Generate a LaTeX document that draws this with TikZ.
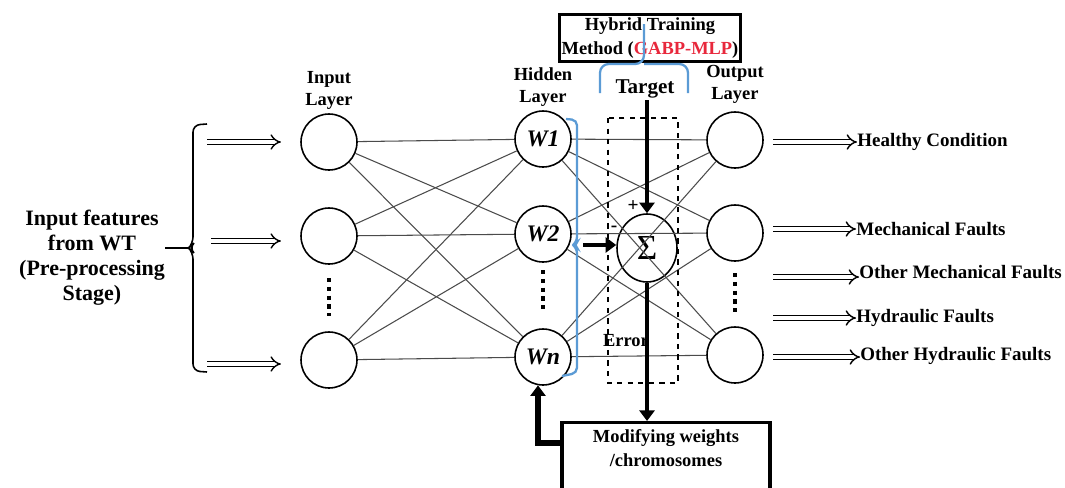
\documentclass[tikz,border=0pt]{standalone}
\usepackage{fontspec}
\setmainfont{Liberation Serif}
\usetikzlibrary{positioning}
\usetikzlibrary{arrows.meta}
\usetikzlibrary{shapes.geometric}
\usetikzlibrary{calc}
\definecolor{braceblue}{RGB}{91,155,213}
\definecolor{gabpred}{RGB}{232,40,60}
\definecolor{wiregray}{RGB}{75,75,75}

\begin{document}
\begin{tikzpicture}[x=0.02cm, y=-0.02cm,
                    neuron/.style={circle, draw, line width=0.9pt, minimum size=1.12cm, inner sep=0pt, font=\bfseries\itshape\fontsize{13.5}{15}\selectfont},
                    sumnode/.style={ellipse, draw, line width=0.9pt, minimum width=1.2cm, minimum height=1.36cm, inner sep=0pt},
                    layertext/.style={font=\bfseries\fontsize{10.5}{12.5}\selectfont, align=center, inner sep=1pt},
                    outtext/.style={font=\bfseries\fontsize{10.8}{13}\selectfont, anchor=west, inner sep=0pt},
                    thickbox/.style={draw, line width=1.8pt, align=center, font=\bfseries\fontsize{10.5}{13.5}\selectfont},
                    wire/.style={draw=wiregray, line width=0.6pt},
                    hollowarrow/.style={double, double distance=2.2pt, line width=0.8pt, -{Implies[scale=1.15]}},
                    heavyarrow/.style={line width=2.7pt, -{Triangle[length=6pt,width=8.5pt]}},
                    dotcol/.style={line width=2.4pt, dash pattern=on 2.4pt off 2.6pt},
                    bluebrace/.style={draw=braceblue, line width=1.3pt}
                   ]
\useasboundingbox (0,0) rectangle (1065,487);
%Nodes
\node[neuron] (i1) at (329,142) {};
\node[neuron] (i2) at (329,236) {};
\node[neuron] (i3) at (329,360) {};
\node[neuron] (h1) at (543,139) {W1};
\node[neuron] (h2) at (543,234) {W2};
\node[neuron] (h3) at (543,357) {Wn};
\node[neuron] (o1) at (735,140) {};
\node[neuron] (o2) at (735,233) {};
\node[neuron] (o3) at (735,355) {};
\node[sumnode] (sum) at (647,248) {\fontsize{20}{20}\selectfont Σ};

\node[layertext] (il) [above=1pt of i1] {Input\\Layer};
\node[layertext] (hl) [above=1pt of h1] {Hidden\\Layer};
\node[layertext] (ol) [above=3pt of o1] {Output\\Layer};

\node[thickbox, minimum width=3.54cm, minimum height=0.94cm, inner sep=1pt] (hyb) at (650,38) {Hybrid Training\\Method (\textcolor{gabpred}{GABP-MLP})};
\node[font=\bfseries\fontsize{12}{14}\selectfont, inner sep=1pt] (tgt) at (645,89) {Target};
\node[font=\bfseries\fontsize{11}{13}\selectfont, inner sep=0pt] (plus) at (633,206) {+};
\node[font=\bfseries\fontsize{11}{13}\selectfont, inner sep=0pt] (minus) at (614,229) {-};
\node[font=\bfseries\fontsize{10.5}{13}\selectfont, inner sep=0pt] (err) at (626,341) {Error};
\node[thickbox, anchor=north, minimum width=4.16cm, minimum height=1.7cm] (mod) at (666,421) {Modifying weights\\/chromosomes\\[2pt]\strut};

\node[font=\bfseries\fontsize{12.5}{14.2}\selectfont, align=center, inner sep=0pt] (feat) at (92,258) {Input features\\from WT\\(Pre-processing\\Stage)};

\node[outtext] (r1) at (857,142) {Healthy Condition};
\node[outtext] (r2) at (856,229) {Mechanical Faults};
\node[outtext] (r3) at (859,272) {Other Mechanical Faults};
\node[outtext] (r4) at (856,318) {Hydraulic Faults};
\node[outtext] (r5) at (860,356) {Other Hydraulic Faults};

\coordinate (ftip) at (189,248);
\coordinate (bt) at (583,245);
\coordinate (l1) at (207,142);
\coordinate (l2) at (211,241);
\coordinate (l3) at (207,364);
\coordinate (a1) at (773,142);
\coordinate (a2) at (773,229);
\coordinate (a3) at (773,277);
\coordinate (a4) at (773,318);
\coordinate (a5) at (773,357);

%Lines
\foreach \a in {i1,i2,i3}
  \foreach \b in {h1,h2,h3}
    \draw[wire] (\a) -- (\b);
\foreach \a in {h1,h2,h3}
  \foreach \b in {o1,o2,o3}
    \draw[wire] (\a) -- (\b);

\draw[dotcol] (329,278) -- (329,316);
\draw[dotcol] (543,270) -- (543,313);
\draw[dotcol] (735,273) -- (735,316);

\draw[dashed, line width=0.8pt] (608,118) rectangle (678,383);

% braces
\draw[line width=0.9pt, rounded corners=4pt] (207,124) -- (193,125) -- (193,244) -- (ftip) -- (193,252) -- (193,371) -- (207,372);
\draw[line width=0.9pt] (feat.east |- ftip) -- (ftip);
\draw[bluebrace, rounded corners=3pt] (566,119) -- (577,120) -- (577,242) -- (573,245) -- (577,248) -- (577,373) -- (562,376);
\draw[bluebrace, rounded corners=5pt] (600,93) |- (644,64) -- (644,24);
\draw[bluebrace, rounded corners=5pt] (688,93) |- (644,64);

% in and out
\foreach \n/\m in {l1/i1, l2/i2, l3/i3}
  \draw[hollowarrow, shorten >=11pt] (\n) -- (\n -| \m.west);
\foreach \n/\m in {a1/r1, a2/r2, a3/r3, a4/r4, a5/r5}
  \draw[hollowarrow] (\n) -- (\n -| \m.west);

% training loop
\draw[heavyarrow] (tgt.south -| sum.north) -- (sum.north);
\draw[heavyarrow] (bt) -- (bt -| sum.west);
\draw[heavyarrow] (sum.south) -- (sum.south |- mod.north);
\draw[heavyarrow, line width=3.4pt] ($(mod.north west)+(0,22)$) -| (h3.-100);
\end{tikzpicture}
\end{document}
